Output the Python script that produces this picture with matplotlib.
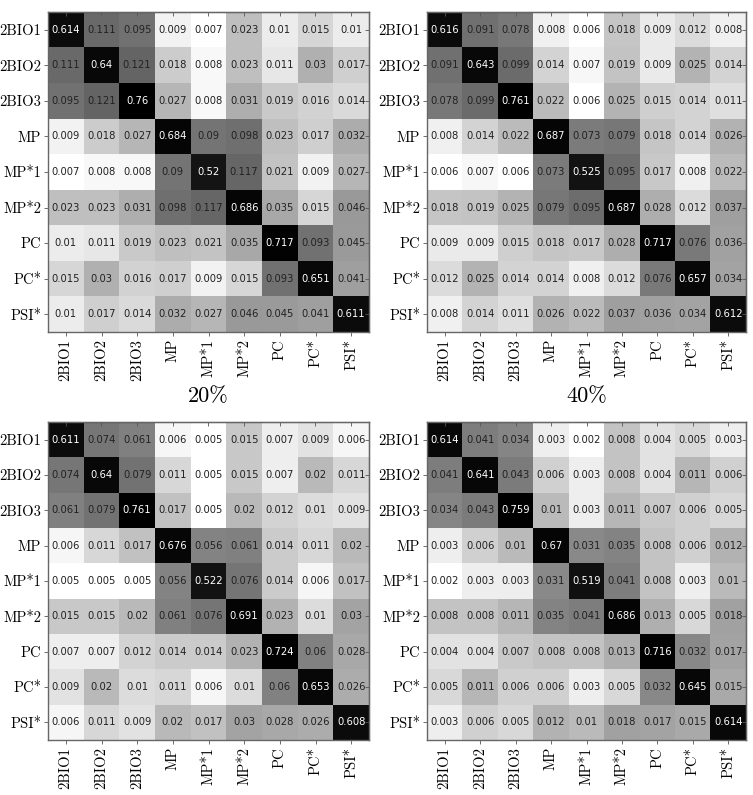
import numpy as np
import matplotlib
matplotlib.use("Agg")
import matplotlib.pyplot as plt
from matplotlib.colors import LogNorm

labels = ["2BIO1", "2BIO2", "2BIO3", "MP", "MP*1", "MP*2", "PC", "PC*", "PSI*"]

conf_20 = [
    [0.614, 0.111, 0.095, 0.009, 0.007, 0.023, 0.01, 0.015, 0.01],
    [0.111, 0.64, 0.121, 0.018, 0.008, 0.023, 0.011, 0.03, 0.017],
    [0.095, 0.121, 0.76, 0.027, 0.008, 0.031, 0.019, 0.016, 0.014],
    [0.009, 0.018, 0.027, 0.684, 0.09, 0.098, 0.023, 0.017, 0.032],
    [0.007, 0.008, 0.008, 0.09, 0.52, 0.117, 0.021, 0.009, 0.027],
    [0.023, 0.023, 0.031, 0.098, 0.117, 0.686, 0.035, 0.015, 0.046],
    [0.01, 0.011, 0.019, 0.023, 0.021, 0.035, 0.717, 0.093, 0.045],
    [0.015, 0.03, 0.016, 0.017, 0.009, 0.015, 0.093, 0.651, 0.041],
    [0.01, 0.017, 0.014, 0.032, 0.027, 0.046, 0.045, 0.041, 0.611],
]

conf_40 = [
    [0.616, 0.091, 0.078, 0.008, 0.006, 0.018, 0.009, 0.012, 0.008],
    [0.091, 0.643, 0.099, 0.014, 0.007, 0.019, 0.009, 0.025, 0.014],
    [0.078, 0.099, 0.761, 0.022, 0.006, 0.025, 0.015, 0.014, 0.011],
    [0.008, 0.014, 0.022, 0.687, 0.073, 0.079, 0.018, 0.014, 0.026],
    [0.006, 0.007, 0.006, 0.073, 0.525, 0.095, 0.017, 0.008, 0.022],
    [0.018, 0.019, 0.025, 0.079, 0.095, 0.687, 0.028, 0.012, 0.037],
    [0.009, 0.009, 0.015, 0.018, 0.017, 0.028, 0.717, 0.076, 0.036],
    [0.012, 0.025, 0.014, 0.014, 0.008, 0.012, 0.076, 0.657, 0.034],
    [0.008, 0.014, 0.011, 0.026, 0.022, 0.037, 0.036, 0.034, 0.612],
]

conf_60 = [
    [0.611, 0.074, 0.061, 0.006, 0.005, 0.015, 0.007, 0.009, 0.006],
    [0.074, 0.64, 0.079, 0.011, 0.005, 0.015, 0.007, 0.02, 0.011],
    [0.061, 0.079, 0.761, 0.017, 0.005, 0.02, 0.012, 0.01, 0.009],
    [0.006, 0.011, 0.017, 0.676, 0.056, 0.061, 0.014, 0.011, 0.02],
    [0.005, 0.005, 0.005, 0.056, 0.522, 0.076, 0.014, 0.006, 0.017],
    [0.015, 0.015, 0.02, 0.061, 0.076, 0.691, 0.023, 0.01, 0.03],
    [0.007, 0.007, 0.012, 0.014, 0.014, 0.023, 0.724, 0.06, 0.028],
    [0.009, 0.02, 0.01, 0.011, 0.006, 0.01, 0.06, 0.653, 0.026],
    [0.006, 0.011, 0.009, 0.02, 0.017, 0.03, 0.028, 0.026, 0.608],
]

conf_80 = [
    [0.614, 0.041, 0.034, 0.003, 0.002, 0.008, 0.004, 0.005, 0.003],
    [0.041, 0.641, 0.043, 0.006, 0.003, 0.008, 0.004, 0.011, 0.006],
    [0.034, 0.043, 0.759, 0.01, 0.003, 0.011, 0.007, 0.006, 0.005],
    [0.003, 0.006, 0.01, 0.67, 0.031, 0.035, 0.008, 0.006, 0.012],
    [0.002, 0.003, 0.003, 0.031, 0.519, 0.041, 0.008, 0.003, 0.01],
    [0.008, 0.008, 0.011, 0.035, 0.041, 0.686, 0.013, 0.005, 0.018],
    [0.004, 0.004, 0.007, 0.008, 0.008, 0.013, 0.716, 0.032, 0.017],
    [0.005, 0.011, 0.006, 0.006, 0.003, 0.005, 0.032, 0.645, 0.015],
    [0.003, 0.006, 0.005, 0.012, 0.01, 0.018, 0.017, 0.015, 0.614],
]

titles = ["20%", "40%", None, None]

W, H = 753, 795
# axes rectangles in pixels: left, top, right, bottom
boxes = [(48, 12, 369, 332), (427, 12, 746, 332),
         (48, 422, 369, 740), (427, 422, 746, 740)]

SERIF = "cmr10"  # computer modern shipped with matplotlib


def draw_matrix(ax, mat, title):
    mat = np.asarray(mat)
    norm = LogNorm(vmin=mat.min(), vmax=mat.max())
    ax.imshow(mat, cmap="gray_r", norm=norm, interpolation="nearest", aspect="auto")
    n = mat.shape[0]
    for i in range(n):
        for j in range(n):
            v = mat[i, j]
            col = "white" if v > 0.3 else "#222222"
            ax.text(j, i, f"{v:g}", ha="center", va="center", fontsize=7.2, color=col)
    ax.set_xticks(range(n))
    ax.set_yticks(range(n))
    ax.set_xticklabels(labels, rotation=90, fontsize=10.5, fontfamily=SERIF)
    ax.set_yticklabels(labels, fontsize=10.5, fontfamily=SERIF)
    ax.tick_params(direction="out", length=3, width=0.6, color="#555555", pad=2)
    for sp in ax.spines.values():
        sp.set_color("#666666")
        sp.set_linewidth(1.0)
    top = ax.secondary_xaxis("top")
    top.set_xticks(range(n))
    top.tick_params(direction="in", length=3, width=0.6, color="#555555", labeltop=False)
    right = ax.secondary_yaxis("right")
    right.set_yticks(range(n))
    right.tick_params(direction="in", length=3, width=0.6, color="#555555", labelright=False)
    if title:
        ax.set_xlabel(title, fontsize=16, fontfamily=SERIF, labelpad=4)


fig = plt.figure(figsize=(W / 100, H / 100), dpi=100)
for mat, title, (l, t, r, b) in zip([conf_20, conf_40, conf_60, conf_80], titles, boxes):
    ax = fig.add_axes([l / W, 1 - b / H, (r - l) / W, (b - t) / H])
    draw_matrix(ax, mat, title)

fig.savefig("out.png", dpi=100)
